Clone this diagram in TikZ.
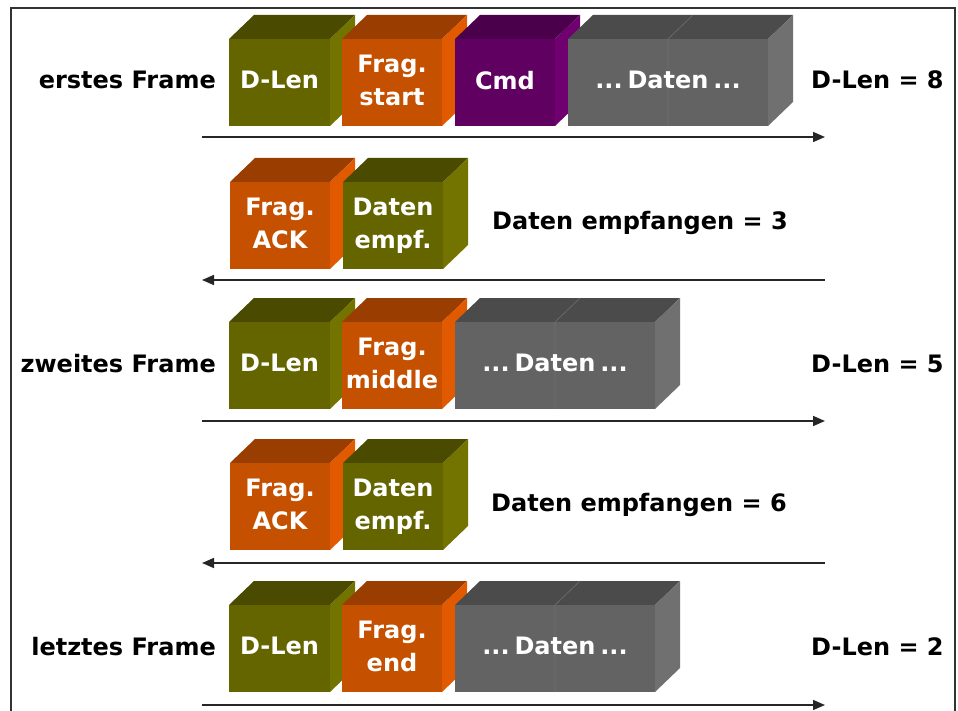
\documentclass[tikz,border=0pt]{standalone}
\usepackage{fontspec}
\setmainfont{DejaVu Sans}
\usetikzlibrary{arrows.meta}
\definecolor{oliveF}{RGB}{101,101,0}
\definecolor{oliveT}{RGB}{74,74,0}
\definecolor{oliveS}{RGB}{115,115,0}
\definecolor{orangeF}{RGB}{197,80,0}
\definecolor{orangeT}{RGB}{153,61,0}
\definecolor{orangeS}{RGB}{226,90,0}
\definecolor{purpleF}{RGB}{96,0,96}
\definecolor{purpleT}{RGB}{74,0,74}
\definecolor{purpleS}{RGB}{112,0,112}
\definecolor{greyF}{RGB}{99,99,99}
\definecolor{greyT}{RGB}{75,75,75}
\definecolor{greyS}{RGB}{112,112,112}
\tikzset{
  celltxt/.style={text=white,align=center,text depth=0pt,inner sep=0pt},
  lbl/.style={inner sep=0pt},
  msg/.style={line width=1.6pt,black!85},
}

\begin{document}
\begin{tikzpicture}[x=1pt,y=-1pt,font=\fontsize{24}{33}\selectfont\bfseries,>={Triangle[length=12pt,width=10pt]}]
\useasboundingbox (0,0) rectangle (958,711);
\draw[line width=1.5pt,black!80] (11,711) -- (11,8) -- (955,8) -- (955,711);
% cube: name, left x, top of front face, width, colour set, text
\def\cube#1#2#3#4#5#6{%
  \fill[#5T] (#2,#3) -- ++(25,-24) -- ++(#4,0) -- ++(-25,24) -- cycle;
  \fill[#5S] (#2+#4,#3) -- ++(25,-24) -- ++(0,87) -- ++(-25,24) -- cycle;
  \fill[#5F] (#2,#3) rectangle ++(#4,87);
  \node[celltxt] (#1) at ({#2+#4/2},{#3+41}) {#6};}
% seam in the middle of the double data block
\def\seam#1#2{\draw[greyF!92!white,line width=0.6pt] (#1+100,#2+87) -- (#1+100,#2) -- ++(25,-24);}
\def\datatxt{...\hspace{0.2em}Daten\hspace{0.2em}...}
%% erstes Frame
\cube{len1}{229}{39}{101}{olive}{D-Len}
\cube{frag1}{342}{39}{100}{orange}{Frag.\\start}
\cube{cmd1}{455}{39}{100}{purple}{Cmd}
\cube{data1}{568}{39}{200}{grey}{}
\seam{568}{39}\node[celltxt] (txt1) at (data1) {\datatxt};
%% Antwort
\cube{ack2}{230}{182}{100}{orange}{Frag.\\ACK}
\cube{rcv2}{343}{182}{100}{olive}{Daten\\empf.}
%% zweites Frame
\cube{len3}{229}{322}{101}{olive}{D-Len}
\cube{frag3}{342}{322}{100}{orange}{Frag.\\middle}
\cube{data3}{455}{322}{200}{grey}{}
\seam{455}{322}\node[celltxt] (txt3) at (data3) {\datatxt};
%% Antwort
\cube{ack4}{230}{463}{100}{orange}{Frag.\\ACK}
\cube{rcv4}{343}{463}{100}{olive}{Daten\\empf.}
%% letztes Frame
\cube{len5}{229}{605}{101}{olive}{D-Len}
\cube{frag5}{342}{605}{100}{orange}{Frag.\\end}
\cube{data5}{455}{605}{200}{grey}{}
\seam{455}{605}\node[celltxt] (txt5) at (data5) {\datatxt};
% labels
\node[lbl,anchor=base east] (name1) at (216,89) {erstes Frame};
\node[lbl,anchor=base east] (name3) at (216,372) {zweites Frame};
\node[lbl,anchor=base east] (name5) at (216,655) {letztes Frame};
\node[lbl,anchor=base west] (dlen1) at (811,89) {D-Len = 8};
\node[lbl,anchor=base west] (dlen3) at (811,372) {D-Len = 5};
\node[lbl,anchor=base west] (dlen5) at (811,655) {D-Len = 2};
\node[lbl,anchor=base west] (cnt2) at (492,230) {Daten empfangen = 3};
\node[lbl,anchor=base west] (cnt4) at (491,511) {Daten empfangen = 6};
% message lines
\foreach \i/\yy in {1/137,2/280,3/421,4/563,5/705} {
  \coordinate (s\i) at (202,\yy); \coordinate (e\i) at (825,\yy);}
\foreach \i in {1,3,5} \draw[msg,->] (s\i) -- (e\i);
\foreach \i in {2,4} \draw[msg,<-] (s\i) -- (e\i);
\end{tikzpicture}
\end{document}
